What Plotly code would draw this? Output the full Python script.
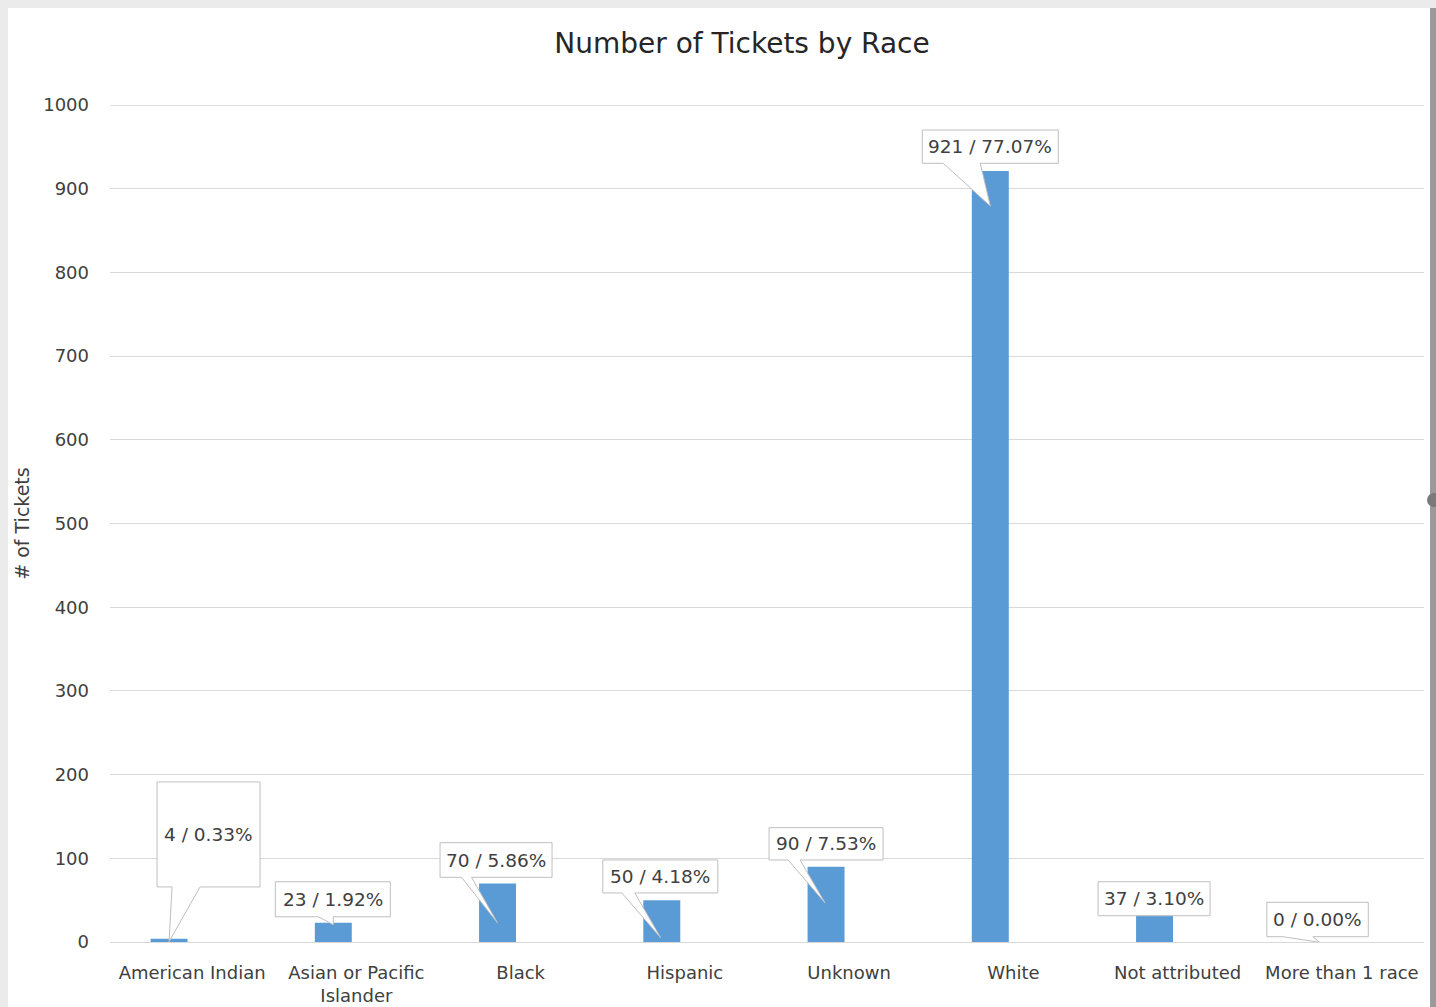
import plotly.graph_objects as go

# ---- data ----
categories = ["American Indian", "Asian or Pacific<br>Islander", "Black", "Hispanic",
              "Unknown", "White", "Not attributed", "More than 1 race"]
tickets = [4, 23, 70, 50, 90, 921, 37, 0]
percents = [0.33, 1.92, 5.86, 4.18, 7.53, 77.07, 3.10, 0.00]
y_ticks = [0, 100, 200, 300, 400, 500, 600, 700, 800, 900, 1000]

FONT = "DejaVu Sans"
TXT = "#404040"
GRID = "#d9d9d9"
BAR = "#5b9bd5"

W, H = 1436, 1007
ML, MR, MT, MB = 110, 12, 105, 65
PW, PH = W - ML - MR, H - MT - MB

def xp(px):
    return (px - ML) / PW

def yp(py):
    return (H - MB - py) / PH

BAR_W = 0.225
BAR_OFF = -0.253

fig = go.Figure()
fig.add_trace(go.Bar(x=categories, y=tickets, width=BAR_W, offset=BAR_OFF,
                     marker=dict(color=BAR, line=dict(width=0)), showlegend=False,
                     hoverinfo="x+y"))

# callout geometry in pixels relative to (bar centre, bar top), y up:
# box left, box right, box bottom, box top, wedge base left, wedge base right, tip x, tip y
callouts = [
    (-12, 91, 51.7, 156.7, 3, 31, 0, -3),
    (-58, 57, 6, 41, -15, 0, 0, -2),
    (-57.5, 54.5, 6.1, 40.7, -36, -26, 0, -39.6),
    (-59, 56, 7.2, 40.2, -40, -27, -1, -37.8),
    (-57, 57, 6.7, 39, -38, -26, -1, -36.3),
    (-68, 68, 7.8, 41.1, -47, -10, 0, -35),
    (-56.5, 55.5, -4.7, 29.3, None, None, None, None),
    (-52, 49.5, 5.3, 39.7, -36, -6, 1, -0.3),
]

shapes = []
# background frame
shapes.append(dict(type="rect", xref="paper", yref="paper", layer="below",
                   x0=xp(8), x1=xp(1430), y0=yp(1010), y1=yp(8),
                   fillcolor="white", line=dict(width=0)))
shapes.append(dict(type="rect", xref="paper", yref="paper", layer="below",
                   x0=xp(1430), x1=xp(1437), y0=yp(1010), y1=yp(8),
                   fillcolor="#9a9a9a", line=dict(width=0)))
shapes.append(dict(type="circle", xref="paper", yref="paper", layer="below",
                   x0=xp(1427), x1=xp(1441), y0=yp(507), y1=yp(493),
                   fillcolor="#7a7a7a", line=dict(width=0)))
# top gridline at the upper edge of the value axis
shapes.append(dict(type="line", xref="paper", yref="y", layer="below",
                   x0=0, x1=1, y0=y_ticks[-1], y1=y_ticks[-1],
                   line=dict(color=GRID, width=1.5)))

annotations = []
for i, (v, p, g) in enumerate(zip(tickets, percents, callouts)):
    xa = i + BAR_OFF + BAR_W / 2
    bl, br, bb, bt, wl, wr, tx, ty = g
    if wl is None:
        path = f"M {bl},{bt} L {br},{bt} L {br},{bb} L {bl},{bb} Z"
    else:
        path = (f"M {bl},{bt} L {br},{bt} L {br},{bb} L {wr},{bb} L {tx},{ty} "
                f"L {wl},{bb} L {bl},{bb} Z")
    shapes.append(dict(type="path", xref="x", yref="y", xsizemode="pixel",
                       ysizemode="pixel", xanchor=xa, yanchor=v, path=path,
                       fillcolor="white", line=dict(color="#bfbfbf", width=1),
                       layer="above"))
    annotations.append(dict(x=xa, y=v, xref="x", yref="y",
                            xshift=(bl + br) / 2, yshift=(bb + bt) / 2,
                            text=f"{v} / {p:.2f}%", showarrow=False,
                            xanchor="center", yanchor="middle",
                            font=dict(family=FONT, size=18.5, color=TXT)))

fig.update_layout(
    width=W, height=H,
    margin=dict(l=ML, r=MR, t=MT, b=MB, pad=0, autoexpand=False),
    paper_bgcolor="#ebebeb", plot_bgcolor="rgba(0,0,0,0)",
    font=dict(family=FONT, size=18, color=TXT),
    title=dict(text="Number of Tickets by Race", x=xp(742), xref="paper",
               xanchor="center", y=1 - 43 / H, yref="container", yanchor="middle",
               font=dict(family=FONT, size=28, color="#262626")),
    shapes=shapes, annotations=annotations,
    bargap=0.2,
)
fig.update_xaxes(type="category", showgrid=False, showline=False, zeroline=False,
                 ticks="", automargin=False,
                 tickfont=dict(family=FONT, size=18, color=TXT),
                 ticklabelstandoff=18)
fig.update_yaxes(range=[0, 1000], tickvals=y_ticks, showgrid=True, gridcolor=GRID,
                 gridwidth=1, zeroline=True, zerolinecolor=GRID, zerolinewidth=1,
                 showline=False, ticks="", ticklabelstandoff=20, automargin=False,
                 tickfont=dict(family=FONT, size=18, color=TXT),
                 title=dict(text="# of Tickets", standoff=8,
                            font=dict(family=FONT, size=19, color=TXT)))

fig.write_html("out.html", config={"displayModeBar": False},
               post_script="document.body.style.margin='0';document.body.style.overflow='hidden';")
